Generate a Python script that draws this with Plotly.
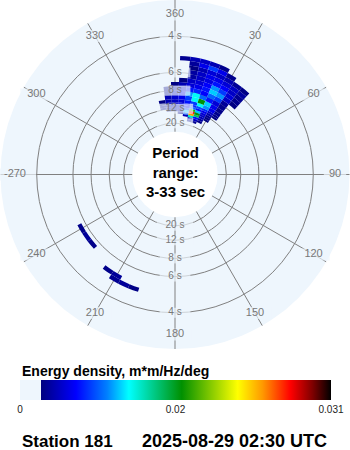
import numpy as np
import plotly.graph_objects as go

# Frequency band edges (Hz) for the main swell grid
band_edges = [0.0575, 0.0625, 0.0675, 0.0725, 0.0775, 0.0825, 0.0875, 0.0925,
              0.0975, 0.105, 0.115, 0.125, 0.135, 0.145, 0.155, 0.165, 0.175,
              0.185, 0.195, 0.205, 0.215]

# Direction bins (deg, 5 deg wide)
main_dirs = [345, 350, 355, 0, 5, 10, 15, 20, 25, 30, 35, 40, 45]

# Energy density in 1e-3 m*m/Hz/deg, one row per band (low -> high frequency)
main_energy = [
    [0, 0, 0, 0, 0, 0, 2.4, 2.5, 0, 0, 0, 0, 0],
    [0, 0, 0, 0, 0, 0, 3.5, 3.8, 2.3, 0, 0, 0, 0],
    [0, 0, 0, 0, 0, 3.5, 12, 6, 3, 0, 0, 0, 0],
    [0, 0, 0, 0, 2.3, 8, 24, 14, 3.5, 2.2, 0, 0, 0],
    [0, 0, 2.3, 2.6, 3.5, 10, 27, 16, 4, 2.3, 0, 0, 0],
    [0, 2.3, 3, 3.2, 3.6, 7, 17, 10, 4.5, 2.6, 0, 0, 0],
    [0, 2.4, 3.2, 3.6, 4, 5, 8, 6, 5, 3.2, 2.2, 0, 0],
    [0, 2.3, 3.5, 4, 4.5, 5.5, 6.5, 7.5, 6.5, 4, 2.4, 0, 0],
    [0, 2.2, 3.5, 4, 4.5, 6, 7, 11, 9, 5, 2.5, 0, 0],
    [0, 0, 3.5, 4.2, 5, 7, 11, 16, 10, 5, 2.4, 0, 0],
    [0, 0, 2.4, 3.8, 5, 9, 11, 8, 6, 4.5, 2.5, 0, 0],
    [0, 0, 2.2, 3.2, 4.2, 6, 6.5, 5.5, 8, 7, 2.8, 0, 0],
    [0, 0, 0, 2.2, 3.5, 4.5, 5, 6, 10, 9, 4, 2.2, 0],
    [0, 0, 0, 0, 2.2, 4, 4.5, 5.5, 9, 7, 4.5, 2.5, 0],
    [0, 0, 0, 0, 0, 3, 4, 4.8, 6, 5.5, 4, 2.6, 0],
    [0, 0, 0, 0, 0, 3, 4, 5, 5, 4.5, 4, 3, 0],
    [0, 0, 0, 0, 0, 2.2, 3.5, 4.5, 4, 3.5, 2.8, 2.3, 0],
    [0, 0, 0, 0, 0, 2.8, 5, 7, 5, 2.5, 0, 0, 0],
    [0, 0, 0, 0, 2.6, 3.5, 4, 3.5, 2.5, 0, 0, 0, 0],
    [0, 0, 0, 0, 0, 0, 0, 0, 0, 0, 0, 0, 0],
]

# Southwest wind-sea patches
sw_dirs = [200, 205, 210, 215, 220, 225, 230, 235, 240]
sw_edges = [0.175, 0.185, 0.195, 0.205, 0.215]
sw_energy = [
    [0, 0, 0, 0, 0, 0, 2.4, 2.8, 2.4],
    [0, 0, 0, 0, 0, 0, 0, 0, 0],
    [0, 0, 2.8, 2.4, 0, 0, 0, 0, 0],
    [2.3, 2.8, 2.6, 0, 0, 0, 0, 0, 0],
]

dir_width = 5
energy_max = 0.031

# Period rings
ring_freqs = [0.25, 1 / 6, 0.125, 1 / 12, 0.05]
ring_labels = ["4 s", "6 s", "8 s", "12 s", "20 s"]

# Compass spokes
spoke_dirs = list(range(0, 360, 30))
spoke_labels = ["360", "30", "60", "90", "120", "150", "180", "210", "240",
                "-270", "300", "330"]

f_min, f_max = 1 / 33, 1 / 3
label_freq = 0.3

bg = "#eef6fd"
grid = "#808080"
label_grey = "#787878"
font = "Liberation Sans, Arial, sans-serif"

colorscale = [
    [0.0, bg], [0.068, bg], [0.068, "#000080"], [0.18, "#0000ff"],
    [0.28, "#0080ff"], [0.35, "#00ffff"], [0.52, "#009000"],
    [0.70, "#ffff00"], [0.78, "#ff9900"], [0.87, "#ff0000"],
    [0.94, "#800000"], [1.0, "#000000"],
]


def cells(dirs, edges, table):
    th, base, dr, val = [], [], [], []
    for i, row in enumerate(table):
        for j, v in enumerate(row):
            if v > 0:
                th.append(dirs[j])
                base.append(edges[i])
                dr.append(edges[i + 1] - edges[i])
                val.append(v * 1e-3)
    return th, base, dr, val


fig = go.Figure()

for k, (dirs, edges, table) in enumerate([(main_dirs, band_edges, main_energy),
                                          (sw_dirs, sw_edges, sw_energy)]):
    th, base, dr, val = cells(dirs, edges, table)
    fig.add_trace(go.Barpolar(
        theta=th, r=dr, base=base, width=[dir_width] * len(th),
        marker=dict(color=val, colorscale=colorscale, cmin=0, cmax=energy_max,
                    showscale=(k == 0), line=dict(width=0),
                    colorbar=dict(
                        orientation="h", x=20 / 350, xanchor="left",
                        y=(450 - 380) / 450, yanchor="top",
                        len=311, lenmode="pixels", thickness=20,
                        xpad=0, ypad=0, outlinewidth=0, ticks="",
                        tickvals=[0, energy_max / 2, energy_max],
                        ticktext=["0", "0.02", "0.031"],
                        tickfont=dict(family=font, size=10, color="#222"),
                    )),
        hoverinfo="skip", showlegend=False,
    ))

# masks behind the ring labels, then the labels themselves
ring_theta = [0] * len(ring_freqs) + [180] * len(ring_freqs)
ring_r = ring_freqs + ring_freqs
ring_text = ring_labels + ring_labels
fig.add_trace(go.Scatterpolar(
    theta=ring_theta, r=ring_r, mode="markers",
    marker=dict(symbol="line-ew", size=[22 if len(t) < 4 else 26 for t in ring_text],
                color=bg, line=dict(width=10, color=bg)),
    hoverinfo="skip", showlegend=False,
))
fig.add_trace(go.Scatterpolar(
    theta=ring_theta, r=ring_r, mode="text", text=ring_text,
    textfont=dict(family=font, size=10, color=label_grey),
    hoverinfo="skip", showlegend=False,
))

# compass labels with their masks
fig.add_trace(go.Scatterpolar(
    theta=spoke_dirs, r=[label_freq] * len(spoke_dirs), mode="markers",
    marker=dict(symbol="line-ew", size=[7 * len(t) + 2 for t in spoke_labels],
                color=bg, line=dict(width=12, color=bg)),
    hoverinfo="skip", showlegend=False,
))
fig.add_trace(go.Scatterpolar(
    theta=spoke_dirs, r=[label_freq] * len(spoke_dirs), mode="text",
    text=spoke_labels,
    textfont=dict(family=font, size=11, color=label_grey),
    hoverinfo="skip", showlegend=False,
))

fig.update_layout(
    width=350, height=450, autosize=False,
    margin=dict(l=0, r=0, t=0, b=0),
    paper_bgcolor="white", plot_bgcolor="white",
    polar=dict(
        domain=dict(x=[0, 1], y=[101 / 450, 1]),
        hole=0.245,
        bgcolor=bg,
        barmode="overlay",
        radialaxis=dict(range=[f_min, f_max], tickvals=ring_freqs,
                        showticklabels=False, ticks="", showline=False,
                        gridcolor=grid, gridwidth=1),
        angularaxis=dict(rotation=90, direction="clockwise",
                         tickvals=spoke_dirs, showticklabels=False, ticks="",
                         showline=False, gridcolor=grid, gridwidth=1),
    ),
    annotations=[
        dict(text="<b>Period<br>range:<br>3-33 sec</b>", x=0.5, y=(450 - 172) / 450,
             xref="paper", yref="paper", showarrow=False,
             font=dict(family=font, size=15, color="black")),
        dict(text="<b>Energy density, m*m/Hz/deg</b>", x=20 / 350, y=(450 - 371) / 450,
             xref="paper", yref="paper", xanchor="left", yanchor="middle",
             showarrow=False, font=dict(family=font, size=14, color="black")),
        dict(text="<b>Station 181</b>", x=20 / 350, y=(450 - 441) / 450,
             xref="paper", yref="paper", xanchor="left", yanchor="middle",
             showarrow=False, font=dict(family=font, size=17, color="black")),
        dict(text="<b>2025-08-29 02:30 UTC</b>", x=140 / 350, y=(450 - 441) / 450,
             xref="paper", yref="paper", xanchor="left", yanchor="middle",
             showarrow=False, font=dict(family=font, size=18, color="black")),
    ],
)

fig.write_html("out.html")
